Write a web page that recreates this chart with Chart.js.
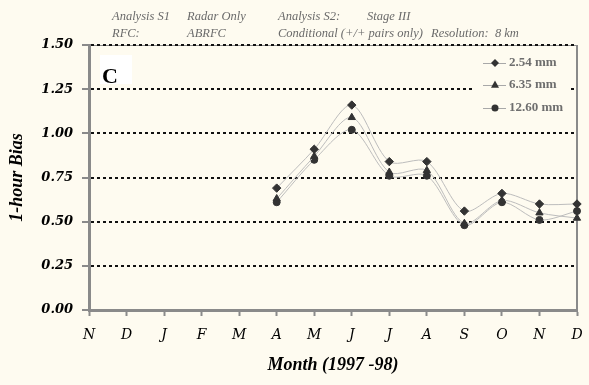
<!DOCTYPE html>
<html>
<head>
<meta charset="utf-8">
<script src="https://cdn.jsdelivr.net/npm/chart.js@4.4.0/dist/chart.umd.min.js"></script>
<style>
    body { margin: 0; background: #fefbf0; overflow: hidden; }
    #wrap { width: 589px; height: 385px; position: relative; }
</style>
</head>
<body>
<div id="wrap"><canvas id="bias-chart"></canvas></div>
<script>
// Month ticks, Nov 1997 - Dec 1998
const months = ['N', 'D', 'J', 'F', 'M', 'A', 'M', 'J', 'J', 'A', 'S', 'O', 'N', 'D'];
const yTicks = [0, 0.25, 0.5, 0.75, 1.0, 1.25, 1.5];

// 1-hour bias per threshold
const bias254 = [null, null, null, null, null, 0.69, 0.91, 1.16, 0.84, 0.84, 0.56, 0.66, 0.60, 0.60];
const bias635 = [null, null, null, null, null, 0.63, 0.87, 1.09, 0.78, 0.79, 0.49, 0.62, 0.55, 0.52];
const bias1260 = [null, null, null, null, null, 0.61, 0.85, 1.02, 0.76, 0.76, 0.48, 0.61, 0.51, 0.56];

const seriesNames = ['2.54 mm', '6.35 mm', '12.60 mm'];
const pointStyles = ['rectRot', 'triangle', 'circle'];

const bg = '#fefbf0';
const axisGray = '#8a8a8a';
const markColor = '#333333';

function makeSet(label, data, style) {
    return {
        label: label,
        data: data,
        borderColor: '#bdbdbd',
        borderWidth: 1,
        tension: 0.3,
        pointStyle: style,
        pointRadius: style === 'circle' ? 3.5 : 4.2,
        pointBackgroundColor: markColor,
        pointBorderColor: markColor,
        pointBorderWidth: 1
    };
}

function drawMarker(ctx, style, x, y, r) {
    ctx.beginPath();
    if (style === 'circle') {
        ctx.arc(x, y, r, 0, Math.PI * 2);
    } else if (style === 'triangle') {
        ctx.moveTo(x, y - r * 1.1);
        ctx.lineTo(x + r, y + r * 0.7);
        ctx.lineTo(x - r, y + r * 0.7);
    } else {
        ctx.moveTo(x, y - r);
        ctx.lineTo(x + r, y);
        ctx.lineTo(x, y + r);
        ctx.lineTo(x - r, y);
    }
    ctx.closePath();
    ctx.fill();
}

const decor = {
    id: 'decor',
    beforeDraw(chart) {
        const c = chart.ctx;
        const a = chart.chartArea;
        c.save();
        c.fillStyle = bg;
        c.fillRect(0, 0, chart.width, chart.height);
        // plot area border (top + right)
        c.strokeStyle = axisGray;
        c.lineWidth = 1;
        c.beginPath();
        c.moveTo(a.left, a.top + 0.5);
        c.lineTo(a.right, a.top + 0.5);
        c.stroke();
        c.lineWidth = 2;
        c.beginPath();
        c.moveTo(a.right, a.top);
        c.lineTo(a.right, a.bottom);
        c.stroke();
        c.restore();
    },
    afterDatasetsDraw(chart) {
        const c = chart.ctx;
        c.save();
        // panel letter
        c.fillStyle = '#ffffff';
        c.fillRect(100, 55, 32, 29);
        c.fillStyle = '#000';
        c.font = 'bold 22px "Liberation Serif"';
        c.textBaseline = 'alphabetic';
        c.fillText('C', 102, 83);

        // legend
        c.fillStyle = bg;
        c.fillRect(475, 49, 93, 72);
        const ys = [63, 85, 108];
        c.font = 'bold 13px "Liberation Serif"';
        c.textBaseline = 'middle';
        seriesNames.forEach((name, i) => {
            c.strokeStyle = '#a8a8a8';
            c.lineWidth = 1;
            c.beginPath();
            c.moveTo(483, ys[i] + 0.5);
            c.lineTo(506, ys[i] + 0.5);
            c.stroke();
            c.fillStyle = markColor;
            drawMarker(c, pointStyles[i], 495, ys[i], pointStyles[i] === 'circle' ? 3.5 : 4);
            c.fillStyle = '#6e6e6e';
            c.fillText(name, 509, ys[i]);
        });

        // header notes
        c.fillStyle = '#6a6a6a';
        c.font = 'italic 12.5px "Liberation Serif"';
        c.fillText('Analysis S1', 112, 17);
        c.fillText('Radar Only', 187, 17);
        c.fillText('Analysis S2:', 278, 17);
        c.fillText('Stage III', 367, 17);
        c.fillText('RFC:', 112, 34);
        c.fillText('ABRFC', 187, 34);
        c.fillText('Conditional (+/+ pairs only)', 278, 34);
        c.fillText('Resolution:  8 km', 431, 34);
        c.restore();
    }
};

const ctx = document.getElementById('bias-chart').getContext('2d');
const chart = new Chart(ctx, {
    type: 'line',
    data: {
        labels: months,
        datasets: [
            makeSet(seriesNames[0], bias254, pointStyles[0]),
            makeSet(seriesNames[1], bias635, pointStyles[1]),
            makeSet(seriesNames[2], bias1260, pointStyles[2])
        ]
    },
    options: {
        responsive: true,
        maintainAspectRatio: false,
        animation: false,
        layout: { padding: { top: 45, right: 12, left: 0, bottom: 0 } },
        plugins: {
            legend: { display: false },
            tooltip: { enabled: false }
        },
        scales: {
            x: {
                offset: false,
                afterFit: (scale) => {
                    scale.height = 75;
                    scale.paddingLeft = 0;
                    scale.paddingRight = 0;
                },
                grid: {
                    drawOnChartArea: false,
                    tickLength: 6,
                    tickColor: axisGray,
                    tickWidth: 2
                },
                border: { color: axisGray, width: 3 },
                ticks: {
                    autoSkip: false,
                    maxRotation: 0,
                    padding: 11,
                    color: '#000',
                    font: { family: '"DejaVu Serif"', style: 'italic', size: 14 }
                },
                title: {
                    display: true,
                    text: 'Month (1997 -98)',
                    color: '#000',
                    padding: { top: 0, bottom: 9 },
                    font: { family: '"Liberation Serif"', style: 'italic', weight: 'bold', size: 18 }
                }
            },
            y: {
                min: 0,
                max: 1.5,
                afterFit: (scale) => {
                    scale.width = 89;
                    scale.paddingTop = 0;
                    scale.paddingBottom = 0;
                },
                afterBuildTicks: (scale) => { scale.ticks = yTicks.map(v => ({ value: v })); },
                grid: {
                    color: (c) => (c.tick && c.tick.value === 0) ? 'rgba(0,0,0,0)' : '#111',
                    lineWidth: 2,
                    tickBorderDash: [],
                    tickColor: axisGray,
                    tickWidth: 2,
                    tickLength: 7
                },
                border: { color: axisGray, width: 3, dash: [3, 3] },
                ticks: {
                    padding: 9,
                    color: '#000',
                    callback: (v) => Number(v).toFixed(2),
                    font: { family: '"DejaVu Serif"', style: 'italic', weight: 'bold', size: 13 }
                },
                title: {
                    display: true,
                    text: '1-hour Bias',
                    color: '#000',
                    padding: { top: 7, bottom: 0 },
                    font: { family: '"Liberation Serif"', style: 'italic', weight: 'bold', size: 18 }
                }
            }
        }
    },
    plugins: [decor]
});
</script>
</body>
</html>
